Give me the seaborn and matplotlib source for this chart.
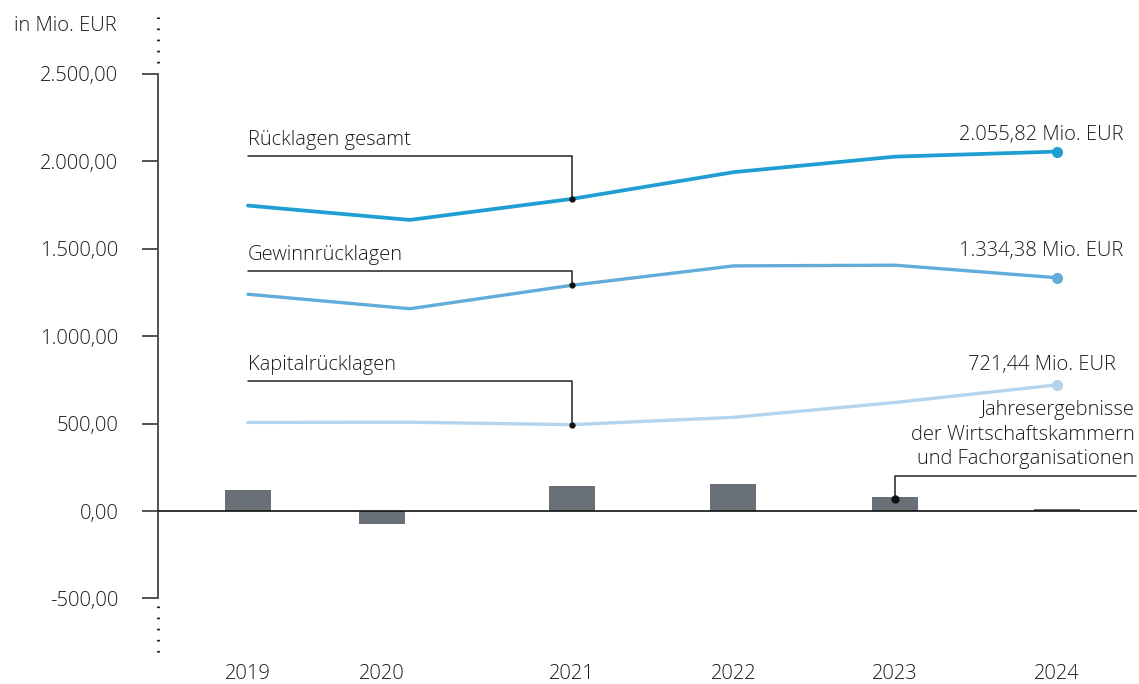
import matplotlib
matplotlib.use("Agg")
import matplotlib.pyplot as plt
from matplotlib.ticker import FuncFormatter
import seaborn as sns

# data (Mio. EUR)
years = ["2019", "2020", "2021", "2022", "2023", "2024"]
ruecklagen_gesamt = [1747, 1665, 1785, 1938, 2027, 2055.82]
gewinnruecklagen = [1240, 1157, 1291, 1402, 1406, 1334.38]
kapitalruecklagen = [507, 508, 494, 536, 621, 721.44]
jahresergebnisse = [120, -72, 143, 154, 80, 14]
end_labels = ["2.055,82 Mio. EUR", "1.334,38 Mio. EUR", "721,44 Mio. EUR"]
series_names = ["Rücklagen gesamt", "Gewinnrücklagen", "Kapitalrücklagen"]
y_ticks = [-500, 0, 500, 1000, 1500, 2000, 2500]

# layout
line_pos = [0, 1, 2, 3, 4, 5]
bar_pos = [0, 0.83, 2, 3, 4, 5]  # the 2020 bar/label sits left of the line vertex in the original
colors = ["#1e9ed3", "#62acd9", "#b3d4ec"]
bar_color = "#6a7077"
text_color = "#1a1a1a"
fs = 14.5

sns.set_style("white")
plt.rcParams["font.family"] = ["Open Sans", "DejaVu Sans"]
plt.rcParams["font.weight"] = "light"
plt.rcParams["font.size"] = fs

fig = plt.figure(figsize=(11.39, 6.84), dpi=100)
ax = fig.add_axes([158 / 1139, 24 / 684, 979 / 1139, 645 / 684])

# bars: Jahresergebnisse
ax.bar(bar_pos, jahresergebnisse, width=0.284, color=bar_color,
       edgecolor="none", linewidth=0, zorder=2)
ax.axhline(0, color="#111111", lw=1.2, zorder=3)

# lines
all_series = [ruecklagen_gesamt, gewinnruecklagen, kapitalruecklagen]
for vals, col, lw in zip(all_series, colors, [2.7, 2.4, 2.4]):
    sns.lineplot(x=line_pos, y=vals, color=col, lw=lw, ax=ax, zorder=4)
    ax.plot(line_pos[-1], vals[-1], "o", color=col, ms=7, zorder=5)

# end value labels
end_offsets = [(48, 12), (48, 19.5), (42, 14.5)]
for vals, lab, off in zip(all_series, end_labels, end_offsets):
    ax.annotate(lab, (line_pos[-1], vals[-1]), xytext=off, textcoords="offset points",
                ha="right", va="center", fontsize=fs, color=text_color)

# callouts to 2021
callout_levels = [2031, 1373, 745]
for vals, name, lvl in zip(all_series, series_names, callout_levels):
    ax.plot([line_pos[0], line_pos[2], line_pos[2]], [lvl, lvl, vals[2]],
            color="#222222", lw=1.1, zorder=6)
    ax.plot(line_pos[2], vals[2], "o", color="#111111", ms=3.5, zorder=7)
    ax.annotate(name, (line_pos[0], lvl), xytext=(0, 4), textcoords="offset points",
                ha="left", va="bottom", fontsize=fs, color=text_color)

# callout for the bars
bar_lvl = 200
ax.plot([bar_pos[4], bar_pos[4], 5.49], [jahresergebnisse[4] - 10, bar_lvl, bar_lvl],
        color="#222222", lw=1.1, zorder=6, clip_on=False)
ax.plot(bar_pos[4], jahresergebnisse[4] - 10, "o", color="#111111", ms=5, zorder=7)
ax.annotate("Jahresergebnisse\nder Wirtschaftskammern\nund Fachorganisationen",
            (5.48, bar_lvl), xytext=(0, 5), textcoords="offset points",
            ha="right", va="bottom", fontsize=fs, color=text_color, linespacing=1.3)

# axes
ax.set_xlim(-0.556, 5.494)
ax.set_ylim(-852, 2837)
ax.set_yticks(y_ticks)
ax.yaxis.set_major_formatter(FuncFormatter(
    lambda v, p: f"{v:,.2f}".replace(",", "X").replace(".", ",").replace("X", ".")))
ax.set_xticks(bar_pos)
ax.set_xticklabels(years)
ax.tick_params(axis="y", direction="out", length=11.5, width=1.3, color="#444444",
               pad=17, labelsize=fs, labelcolor=text_color, left=True)
ax.tick_params(axis="x", length=0, pad=3, labelsize=fs, labelcolor=text_color)

for s in ["top", "right", "bottom"]:
    ax.spines[s].set_visible(False)
ax.spines["left"].set_bounds(-500, 2500)
ax.spines["left"].set_color("#444444")
ax.spines["left"].set_linewidth(1.3)

# dotted extensions of the y axis
tr = ax.get_yaxis_transform()
for y0, y1 in [(2560, 2837), (-545, -835)]:
    ax.plot([0, 0], [y0, y1], transform=tr, color="#111111", lw=2,
            ls=(0, (0.6, 3.4)), clip_on=False)

fig.text(117 / 1139, 1 - 26 / 684, "in Mio. EUR", ha="right", va="center",
         fontsize=fs, color=text_color)

fig.savefig("out.png", dpi=100)
